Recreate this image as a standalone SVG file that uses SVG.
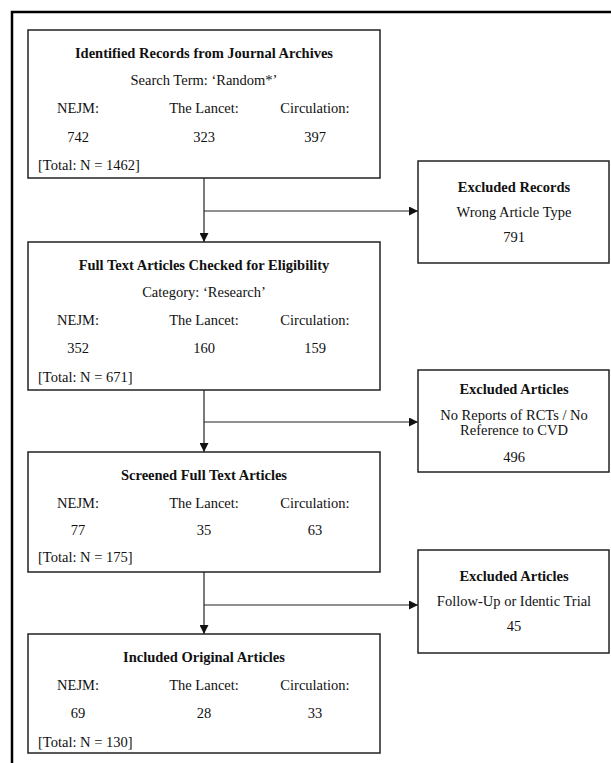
<svg xmlns="http://www.w3.org/2000/svg" width="611" height="763" viewBox="0 0 611 763">
<style>
  text { font-family: "Liberation Serif", "Times New Roman", serif; font-size: 14.5px; fill: #111; text-anchor: middle; }
  .b { font-weight: bold; }
  .l { text-anchor: start; }
  .box { fill: #fff; stroke: #222; stroke-width: 1.5; }
  .ln { stroke: #222; stroke-width: 1.2; fill: none; }
</style>
<defs>
  <marker id="ah" viewBox="0 0 10 10" refX="10" refY="5" markerWidth="9" markerHeight="9" markerUnits="userSpaceOnUse" orient="auto">
    <path d="M0,0 L10,5 L0,10 z" fill="#111"/>
  </marker>
</defs>
<rect width="611" height="763" fill="#fff"/>
<path d="M12,763 L12,12 L611,12" fill="none" stroke="#000" stroke-width="2.5"/>

<g id="connectors">
  <line class="ln" x1="204" y1="178" x2="204" y2="242" marker-end="url(#ah)"/>
  <line class="ln" x1="204" y1="211" x2="418" y2="211" marker-end="url(#ah)"/>
  <line class="ln" x1="204" y1="390" x2="204" y2="452" marker-end="url(#ah)"/>
  <line class="ln" x1="204" y1="422" x2="418" y2="422" marker-end="url(#ah)"/>
  <line class="ln" x1="204" y1="572" x2="204" y2="634" marker-end="url(#ah)"/>
  <line class="ln" x1="204" y1="605" x2="418" y2="605" marker-end="url(#ah)"/>
</g>

<g id="identified">
  <rect class="box" x="28" y="30" width="352" height="148"/>
  <text class="b" x="204" y="58">Identified Records from Journal Archives</text>
  <text x="204" y="85">Search Term: ‘Random*’</text>
  <text x="78" y="113">NEJM:</text>
  <text x="204" y="113">The Lancet:</text>
  <text x="315" y="113">Circulation:</text>
  <text x="78" y="142">742</text>
  <text x="204" y="142">323</text>
  <text x="315" y="142">397</text>
  <text class="l" x="38" y="170">[Total: N = 1462]</text>
</g>

<g id="excluded-records">
  <rect class="box" x="418" y="161" width="191" height="102"/>
  <text class="b" x="514" y="192">Excluded Records</text>
  <text x="514" y="217">Wrong Article Type</text>
  <text x="514" y="242">791</text>
</g>

<g id="fulltext">
  <rect class="box" x="28" y="242" width="352" height="148"/>
  <text class="b" x="204" y="270">Full Text Articles Checked for Eligibility</text>
  <text x="204" y="297">Category: ‘Research’</text>
  <text x="78" y="325">NEJM:</text>
  <text x="204" y="325">The Lancet:</text>
  <text x="315" y="325">Circulation:</text>
  <text x="78" y="353">352</text>
  <text x="204" y="353">160</text>
  <text x="315" y="353">159</text>
  <text class="l" x="38" y="382">[Total: N = 671]</text>
</g>

<g id="excluded-articles-1">
  <rect class="box" x="418" y="370" width="191" height="102"/>
  <text class="b" x="514" y="394">Excluded Articles</text>
  <text x="514" y="420">No Reports of RCTs / No</text>
  <text x="514" y="435">Reference to CVD</text>
  <text x="514" y="462">496</text>
</g>

<g id="screened">
  <rect class="box" x="28" y="452" width="352" height="120"/>
  <text class="b" x="204" y="480">Screened Full Text Articles</text>
  <text x="78" y="508">NEJM:</text>
  <text x="204" y="508">The Lancet:</text>
  <text x="315" y="508">Circulation:</text>
  <text x="78" y="535">77</text>
  <text x="204" y="535">35</text>
  <text x="315" y="535">63</text>
  <text class="l" x="38" y="562">[Total: N = 175]</text>
</g>

<g id="excluded-articles-2">
  <rect class="box" x="418" y="550" width="191" height="103"/>
  <text class="b" x="514" y="581">Excluded Articles</text>
  <text x="514" y="606">Follow-Up or Identic Trial</text>
  <text x="514" y="631">45</text>
</g>

<g id="included">
  <rect class="box" x="28" y="634" width="352" height="119"/>
  <text class="b" x="204" y="662">Included Original Articles</text>
  <text x="78" y="690">NEJM:</text>
  <text x="204" y="690">The Lancet:</text>
  <text x="315" y="690">Circulation:</text>
  <text x="78" y="718">69</text>
  <text x="204" y="718">28</text>
  <text x="315" y="718">33</text>
  <text class="l" x="38" y="747">[Total: N = 130]</text>
</g>
</svg>
